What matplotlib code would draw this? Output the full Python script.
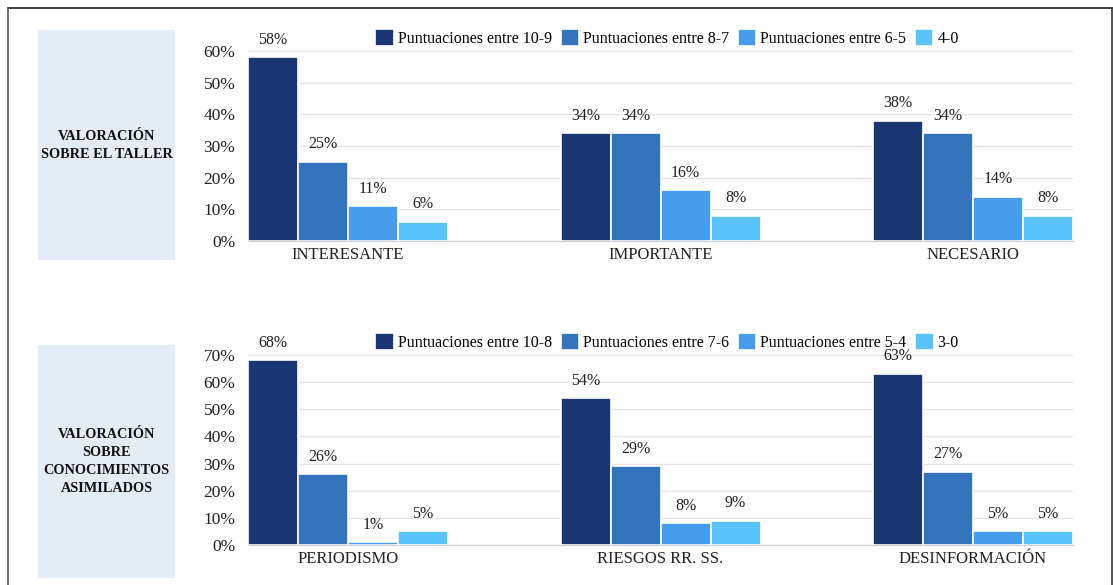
import matplotlib
matplotlib.use("Agg")
import matplotlib.pyplot as plt
from matplotlib.lines import Line2D
from matplotlib.patches import Rectangle
import numpy as np

plt.rcParams['font.family'] = ['Liberation Serif', 'DejaVu Serif']

# top panel
cats_top = ["INTERESANTE", "IMPORTANTE", "NECESARIO"]
series_top = ["Puntuaciones entre 10-9", "Puntuaciones entre 8-7",
              "Puntuaciones entre 6-5", "4-0"]
vals_top = [
    [58, 34, 38],
    [25, 34, 34],
    [11, 16, 14],
    [6, 8, 8],
]
title_top = "VALORACIÓN\nSOBRE EL TALLER"

# bottom panel
cats_bot = ["PERIODISMO", "RIESGOS RR. SS.", "DESINFORMACIÓN"]
series_bot = ["Puntuaciones entre 10-8", "Puntuaciones entre 7-6",
              "Puntuaciones entre 5-4", "3-0"]
vals_bot = [
    [68, 54, 63],
    [26, 29, 27],
    [1, 8, 5],
    [5, 9, 5],
]
title_bot = "VALORACIÓN\nSOBRE\nCONOCIMIENTOS\nASIMILADOS"

colors = ["#1a3673", "#3473be", "#479deb", "#5ac3f9"]

W, H = 1113, 585
fig = plt.figure(figsize=(W / 100, H / 100), dpi=100)
fig.patch.set_facecolor("white")


def panel(rect, box, cats, series, vals, ymax, title):
    # label box on the left
    fig.add_artist(Rectangle((box[0] / W, 1 - box[3] / H), (box[2] - box[0]) / W,
                             (box[3] - box[1]) / H, transform=fig.transFigure,
                             facecolor="#e4ecf5", edgecolor="none"))
    fig.text((box[0] + box[2]) / 2 / W, 1 - (box[1] + box[3]) / 2 / H, title,
             ha="center", va="center", fontsize=10.3, fontweight="bold",
             linespacing=1.5, color="#111111")

    ax = fig.add_axes(rect)
    x = np.arange(len(cats))
    w = 0.16
    for i, (s, v) in enumerate(zip(series, vals)):
        pos = x + (i - 1.5) * w
        ax.bar(pos, v, width=w, color=colors[i], edgecolor="white",
               linewidth=1.2, label=s, zorder=3)
        for px, pv in zip(pos, v):
            ax.text(px, pv + ymax * 0.05, f"{pv}%", ha="center", va="bottom",
                    fontsize=11.5, color="#222222")
    ax.set_xlim(-0.32, 2.32)
    ax.set_ylim(0, ymax)
    ax.set_yticks(np.arange(0, ymax + 1, 10))
    ax.set_yticklabels([f"{t}%" for t in range(0, ymax + 1, 10)])
    ax.set_xticks(x)
    ax.set_xticklabels(cats)
    ax.tick_params(axis="y", length=0, labelsize=12.5, pad=9, labelcolor="#222222")
    ax.tick_params(axis="x", length=0, labelsize=12, pad=4, labelcolor="#222222")
    ax.grid(axis="y", color="#e6e6e6", linewidth=1, zorder=0)
    for sp in ["top", "right", "left"]:
        ax.spines[sp].set_visible(False)
    ax.spines["bottom"].set_color("#d0d0d0")
    ax.spines["bottom"].set_zorder(4)
    ax.legend(loc="center", bbox_to_anchor=(0.508, 1.07), ncol=4, frameon=False,
              fontsize=11.5, handlelength=1.15, handleheight=1.3,
              handletextpad=0.25, columnspacing=0.55, borderpad=0)
    return ax


panel([248 / W, 1 - 241 / H, 825 / W, 190 / H], (38, 30, 175, 260),
      cats_top, series_top, vals_top, 60, title_top)
panel([248 / W, 1 - 545 / H, 825 / W, 190 / H], (38, 345, 175, 578),
      cats_bot, series_bot, vals_bot, 70, title_bot)

# outer frame lines
fig.add_artist(Line2D([8 / W, 1112 / W], [1 - 8 / H, 1 - 8 / H],
                      transform=fig.transFigure, color="#222222", linewidth=1.2))
fig.add_artist(Line2D([8 / W, 8 / W], [0, 1 - 8 / H],
                      transform=fig.transFigure, color="#555555", linewidth=1.2))
fig.add_artist(Line2D([1111.5 / W, 1111.5 / W], [0, 1 - 8 / H],
                      transform=fig.transFigure, color="#333333", linewidth=1.2))

fig.savefig("out.png", dpi=100)
